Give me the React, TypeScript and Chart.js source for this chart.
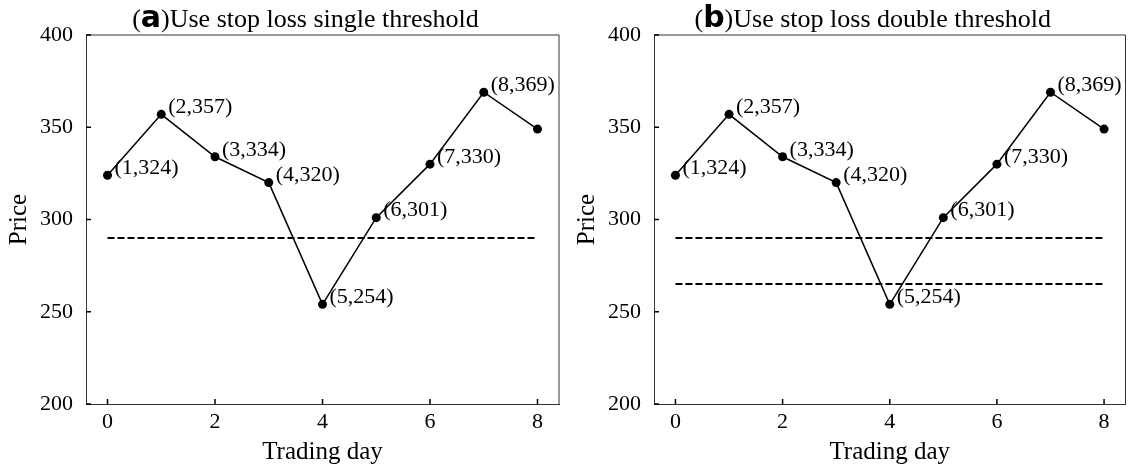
import React, { useEffect, useRef } from 'react';
import { Chart, registerables } from 'chart.js';

Chart.register(...registerables);

const days = [0, 1, 2, 3, 4, 5, 6, 7, 8];
const prices = [324, 357, 334, 320, 254, 301, 330, 369, 349];
const pointLabels = ['(1,324)', '(2,357)', '(3,334)', '(4,320)', '(5,254)', '(6,301)', '(7,330)', '(8,369)', ''];
const xTicks = [0, 2, 4, 6, 8];
const yTicks = [200, 250, 300, 350, 400];
const thresholdsA = [290];
const thresholdsB = [290, 265];
const thresholdSpan = [0, 8];

const SERIF = "'Liberation Serif', 'Times New Roman', serif";
const SANS_BOLD = "'DejaVu Sans', sans-serif";

type PanelProps = {
  letter: string;
  title: string;
  thresholds: number[];
  width: number;
  padRight: number;
};

function Panel({ letter, title, thresholds, width, padRight }: PanelProps) {
  const ref = useRef<HTMLCanvasElement | null>(null);

  useEffect(() => {
    if (!ref.current) return;

    const framePlugin = {
      id: 'frame',
      afterDraw(chart: any) {
        const { ctx, chartArea } = chart;
        const { left, right, top, bottom } = chartArea;
        ctx.save();
        ctx.strokeStyle = '#333';
        ctx.lineWidth = 1;
        ctx.beginPath();
        ctx.moveTo(left, top);
        ctx.lineTo(right, top);
        ctx.lineTo(right, bottom);
        ctx.stroke();
        // inward ticks
        const xs = chart.scales.x;
        const ys = chart.scales.y;
        ctx.strokeStyle = '#000';
        ctx.lineWidth = 1.5;
        ctx.beginPath();
        xTicks.forEach((v) => {
          const px = xs.getPixelForValue(v);
          ctx.moveTo(px, bottom);
          ctx.lineTo(px, bottom - 5);
        });
        yTicks.forEach((v) => {
          const py = ys.getPixelForValue(v);
          ctx.moveTo(left, py);
          ctx.lineTo(left + 5, py);
        });
        ctx.stroke();
        ctx.restore();
      },
    };

    const labelPlugin = {
      id: 'pointLabels',
      afterDatasetsDraw(chart: any) {
        const { ctx } = chart;
        const meta = chart.getDatasetMeta(0);
        ctx.save();
        ctx.fillStyle = '#000';
        ctx.font = `22px ${SERIF}`;
        ctx.textAlign = 'left';
        ctx.textBaseline = 'middle';
        meta.data.forEach((pt: any, i: number) => {
          const t = pointLabels[i];
          if (!t) return;
          ctx.fillText(t, pt.x + 7, pt.y - 7);
        });
        ctx.restore();
      },
    };

    const titlePlugin = {
      id: 'mixedTitle',
      afterDraw(chart: any) {
        const { ctx, chartArea } = chart;
        const serifFont = `26px ${SERIF}`;
        const boldFont = `bold 30px ${SANS_BOLD}`;
        ctx.save();
        ctx.fillStyle = '#000';
        ctx.textBaseline = 'alphabetic';
        ctx.textAlign = 'left';
        ctx.font = serifFont;
        const wOpen = ctx.measureText('(').width;
        const wRest = ctx.measureText(')' + title).width;
        ctx.font = boldFont;
        const wLetter = ctx.measureText(letter).width;
        const total = wOpen + wLetter + wRest;
        const cx = (chartArea.left + chartArea.right) / 2 - 17;
        let x = cx - total / 2;
        const y = 27;
        ctx.font = serifFont;
        ctx.fillText('(', x, y);
        x += wOpen;
        ctx.font = boldFont;
        ctx.fillText(letter, x, y);
        x += wLetter;
        ctx.font = serifFont;
        ctx.fillText(')' + title, x, y);
        ctx.restore();
      },
    };

    const thresholdSets = thresholds.map((t) => ({
      data: thresholdSpan.map((x) => ({ x, y: t })),
      borderColor: '#000',
      borderWidth: 2,
      borderDash: [7, 3],
      pointRadius: 0,
      fill: false,
    }));

    const chart = new Chart(ref.current, {
      type: 'line',
      data: {
        datasets: [
          {
            data: days.map((d, i) => ({ x: d, y: prices[i] })),
            borderColor: '#000',
            borderWidth: 1.5,
            pointRadius: 4.5,
            pointBackgroundColor: '#000',
            pointBorderColor: '#000',
            pointBorderWidth: 0,
            fill: false,
            tension: 0,
          },
          ...thresholdSets,
        ] as any,
      },
      options: {
        responsive: false,
        animation: false,
        layout: { padding: { top: 35, right: padRight, left: 0, bottom: 0 } },
        plugins: {
          legend: { display: false },
          tooltip: { enabled: false },
          title: { display: false },
        },
        scales: {
          x: {
            type: 'linear',
            min: -0.4,
            max: 8.4,
            afterBuildTicks: (s: any) => {
              s.ticks = xTicks.map((v) => ({ value: v }));
            },
            afterFit: (s: any) => {
              s.height = 67;
            },
            grid: { display: false, drawTicks: false },
            border: { display: true, color: '#333', width: 1 },
            ticks: {
              color: '#000',
              font: { family: SERIF, size: 22 },
              padding: 5,
              maxRotation: 0,
              autoSkip: false,
              callback: (v: any) => String(v),
            },
            title: {
              display: true,
              text: 'Trading day',
              color: '#000',
              font: { family: SERIF, size: 25 },
              padding: { top: 0, bottom: 4 },
            },
          },
          y: {
            type: 'linear',
            min: 200,
            max: 400,
            afterBuildTicks: (s: any) => {
              s.ticks = yTicks.map((v) => ({ value: v }));
            },
            afterFit: (s: any) => {
              s.width = 86;
            },
            grid: { display: false, drawTicks: false },
            border: { display: true, color: '#333', width: 1 },
            ticks: {
              color: '#000',
              font: { family: SERIF, size: 22 },
              padding: 13,
              autoSkip: false,
              callback: (v: any) => String(v),
            },
            title: {
              display: true,
              text: 'Price',
              color: '#000',
              font: { family: SERIF, size: 25 },
              padding: { top: 4, bottom: 0 },
            },
          },
        },
      } as any,
      plugins: [framePlugin, labelPlugin, titlePlugin],
    });

    return () => chart.destroy();
  }, [letter, title, thresholds, width, padRight]);

  return <canvas ref={ref} width={width} height={471} style={{ display: 'block', width, height: 471 }} />;
}

export default function App() {
  return (
    <div style={{ position: 'absolute', left: 0, top: 0, width: 1130, height: 471, background: '#fff' }}>
      <div style={{ position: 'absolute', left: 0, top: 0 }}>
        <Panel letter="a" title="Use stop loss single threshold" thresholds={thresholdsA} width={565} padRight={6} />
      </div>
      <div style={{ position: 'absolute', left: 568, top: 0 }}>
        <Panel letter="b" title="Use stop loss double threshold" thresholds={thresholdsB} width={562} padRight={3} />
      </div>
    </div>
  );
}
